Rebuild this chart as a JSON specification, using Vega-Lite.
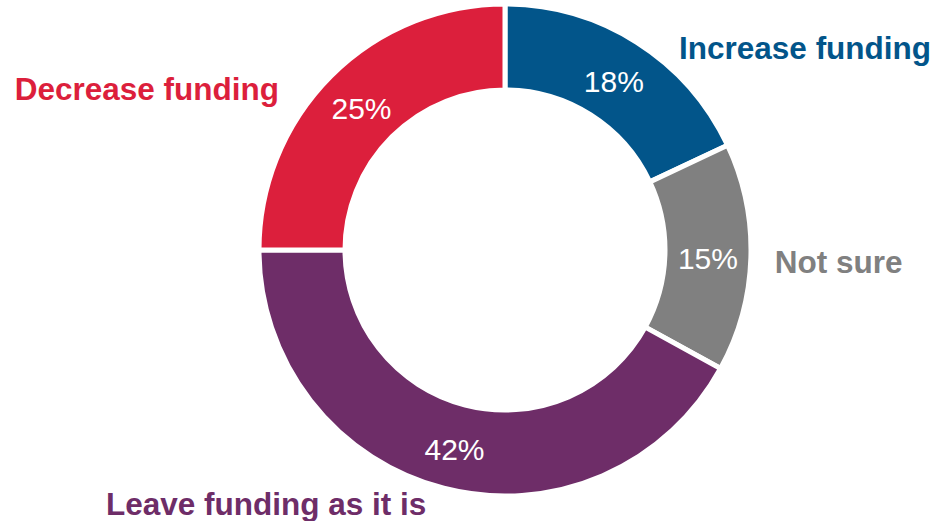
{
  "$schema": "https://vega.github.io/schema/vega-lite/v6.json",
  "width": 866,
  "height": 500,
  "autosize": {"type": "none"},
  "padding": {"left": 72, "top": 0, "right": 0, "bottom": 21},
  "background": "white",
  "config": {"view": {"stroke": null}, "font": "Liberation Sans"},
  "data": {
    "values": [
      {"label": "Increase funding", "share": 0.18, "rank": 1},
      {"label": "Not sure", "share": 0.15, "rank": 2},
      {"label": "Leave funding as it is", "share": 0.42, "rank": 3},
      {"label": "Decrease funding", "share": 0.25, "rank": 4}
    ]
  },
  "encoding": {
    "theta": {"field": "share", "type": "quantitative", "stack": true},
    "order": {"field": "rank", "type": "quantitative", "sort": "ascending"},
    "detail": {"field": "label", "type": "nominal"},
    "color": {
      "field": "label",
      "type": "nominal",
      "scale": {
        "domain": ["Increase funding", "Not sure", "Leave funding as it is", "Decrease funding"],
        "range": ["#02558A", "#808080", "#6E2D68", "#DC1F3C"]
      },
      "legend": null
    }
  },
  "layer": [
    {
      "mark": {"type": "arc", "innerRadius": 160, "outerRadius": 246, "stroke": "white", "strokeWidth": 5}
    },
    {
      "mark": {"type": "text", "radius": 203, "fontSize": 30, "dy": 13, "baseline": "alphabetic", "align": "center"},
      "encoding": {
        "text": {"field": "share", "type": "quantitative", "format": ".0%"},
        "color": {"value": "white"}
      }
    },
    {
      "mark": {"type": "text", "radius": 280, "fontSize": 31.5, "fontWeight": "bold", "align": "left", "baseline": "alphabetic", "dx": 24, "dy": 45},
      "encoding": {
        "text": {"condition": {"test": "datum.label === 'Increase funding'", "field": "label"}, "value": ""}
      }
    },
    {
      "mark": {"type": "text", "radius": 280, "fontSize": 31.5, "fontWeight": "bold", "align": "left", "baseline": "alphabetic", "dx": -10, "dy": 14},
      "encoding": {
        "text": {"condition": {"test": "datum.label === 'Not sure'", "field": "label"}, "value": ""}
      }
    },
    {
      "mark": {"type": "text", "radius": 280, "fontSize": 31.5, "fontWeight": "bold", "align": "right", "baseline": "alphabetic", "dx": -9, "dy": -6},
      "encoding": {
        "text": {"condition": {"test": "datum.label === 'Leave funding as it is'", "field": "label"}, "value": ""}
      }
    },
    {
      "mark": {"type": "text", "radius": 280, "fontSize": 31.5, "fontWeight": "bold", "align": "right", "baseline": "alphabetic", "dx": -28, "dy": 48},
      "encoding": {
        "text": {"condition": {"test": "datum.label === 'Decrease funding'", "field": "label"}, "value": ""}
      }
    }
  ]
}
